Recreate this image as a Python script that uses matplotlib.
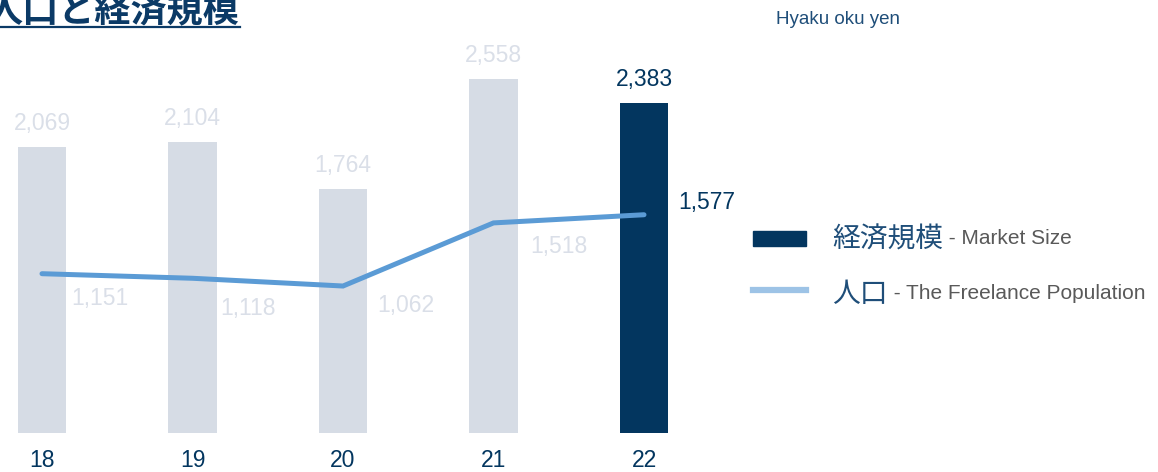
import matplotlib
matplotlib.use("Agg")
import matplotlib.pyplot as plt
from matplotlib.patches import Rectangle

plt.rcParams['font.family'] = ['Liberation Sans', 'Noto Sans CJK JP']

# data (hyaku oku yen / population)
years = ["18", "19", "20", "21", "22"]
market_size = [2069, 2104, 1764, 2558, 2383]
population = [1151, 1118, 1062, 1518, 1577]

# label offsets for the line values (points)
pop_offsets = [(42, -18), (40, -22), (45, -14), (47, -17), (45, 9)]

navy = "#03365f"
light_bar = "#d6dce5"
light_txt = "#dadfe8"
line_col = "#5b9bd5"

fig = plt.figure(figsize=(11.58, 4.72), dpi=100)
ax = fig.add_axes([0, 39 / 472, 720 / 1158, 393 / 472])

x = list(range(len(years)))
bar_colors = [light_bar] * (len(years) - 1) + [navy]
bars = ax.bar(x, market_size, width=0.32, color=bar_colors, zorder=1)
ax.plot(x, population, color=line_col, lw=3.6, solid_capstyle='round',
        solid_joinstyle='miter', zorder=2)

for i, (b, v) in enumerate(zip(bars, market_size)):
    col = navy if i == len(years) - 1 else light_txt
    ax.annotate(f"{v:,}", (b.get_x() + b.get_width() / 2, v),
                xytext=(0, 17), textcoords='offset points',
                ha='center', va='center', fontsize=16.5, color=col)

for i, v in enumerate(population):
    col = navy if i == len(years) - 1 else light_txt
    ax.annotate(f"{v:,}", (i, v), xytext=pop_offsets[i],
                textcoords='offset points', ha='center', va='center',
                fontsize=16.5, color=col, zorder=3)

ax.set_xlim(-42 / 150.5, (720 - 42) / 150.5)
ax.set_ylim(0, 393 / 0.1384)
ax.set_xticks(x)
ax.set_xticklabels(years, fontsize=16.5, color=navy)
ax.tick_params(axis='x', length=0, pad=11.5)
ax.set_yticks([])
for s in ax.spines.values():
    s.set_visible(False)

# overlay for title and legend, in pixel coordinates
lax = fig.add_axes([0, 0, 1, 1], zorder=-1)
lax.set_xlim(0, 1158)
lax.set_ylim(472, 0)
lax.axis('off')

lax.text(-14, 22, "人口と経済規模", fontsize=26, fontweight='bold',
         color="#0b3a66", va='baseline', ha='left')
lax.plot([0, 240], [27, 27], color="#0b3a66", lw=1.6)

lax.text(838, 20, "Hyaku oku yen", fontsize=13.5, color="#1f4e79",
         ha='center', va='center')

lax.add_patch(Rectangle((753, 231), 53, 15, color=navy))
lax.plot([753, 806], [290, 290], color="#9dc3e6", lw=4.5)

t1 = lax.text(832, 240, "経済規模", fontsize=20, color="#1f4e79",
              va='center', ha='left')
lax.annotate(" - Market Size", xy=(1, 0.2), xycoords=t1, fontsize=15,
             color="#595959", va='bottom', ha='left')
t2 = lax.text(832, 295, "人口", fontsize=20, color="#1f4e79",
              va='center', ha='left')
lax.annotate(" - The Freelance Population", xy=(1, 0.2), xycoords=t2,
             fontsize=15, color="#595959", va='bottom', ha='left')

fig.savefig("out.png", dpi=100)
